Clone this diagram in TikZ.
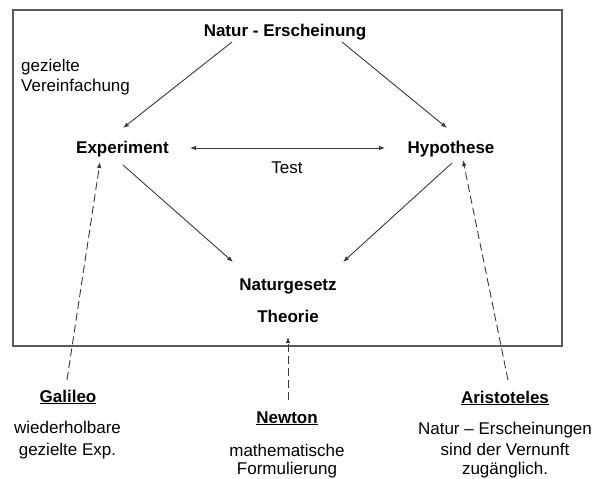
\documentclass[tikz,border=0pt]{standalone}
\usepackage{fontspec}
\setmainfont{Liberation Sans}
\usetikzlibrary{arrows.meta}
\definecolor{linegray}{HTML}{3A3A3A}
\definecolor{boxgray}{HTML}{5A5A5A}
\tikzset{
  lbl/.style={anchor=base, inner sep=0pt, font=\fontsize{17}{20}\selectfont},
  bold/.style={lbl, font=\fontsize{17}{20}\selectfont\bfseries},
  arr/.style={draw=linegray, line width=0.9pt, -{Latex[length=6pt,width=4.5pt]}},
  darr/.style={draw=linegray, line width=0.9pt, {Latex[length=6pt,width=4.5pt]}-{Latex[length=6pt,width=4.5pt]}},
  dashedarr/.style={arr, dash pattern=on 8pt off 4pt},
  frame/.style={draw=boxgray, line width=1.3pt}
}
\begin{document}
\begin{tikzpicture}[x=1pt,y=-1pt]
\useasboundingbox (0,0) rectangle (598,479);
\draw[frame] (13,10) rectangle (562,346);

\node[bold] (nat) at (285,37) {Natur - Erscheinung};
\node[lbl, anchor=base west] (gez) at (21,71) {gezielte};
\node[lbl, anchor=base west] (ver) at (21,91) {Vereinfachung};
\node[bold] (exp) at (122.5,153) {Experiment};
\node[bold] (hyp) at (451,153) {Hypothese};
\node[lbl] (test) at (287,173) {Test};
\node[bold] (law) at (288,290) {Naturgesetz};
\node[bold] (theo) at (288,322) {Theorie};

\node[bold] (gal) at (68,402) {\underline{Galileo}};
\node[lbl] (gal1) at (67.5,433) {wiederholbare};
\node[lbl] (gal2) at (67.5,455) {gezielte Exp.};

\node[bold] (new) at (287,423) {\underline{Newton}};
\node[lbl] (new1) at (287,456) {mathematische};
\node[lbl] (new2) at (287,474) {Formulierung};

\node[bold] (ari) at (505,403) {\underline{Aristoteles}};
\node[lbl] (ari1) at (505,434) {Natur – Erscheinungen};
\node[lbl] (ari2) at (505,455) {sind der Vernunft};
\node[lbl] (ari3) at (505,474) {zugänglich.};

\draw[arr] ([shift={(-53,5)}]nat.base) -- ([shift={(0.5,-25)}]exp.base);
\draw[arr] ([shift={(57,5)}]nat.base) -- ([shift={(-4,-25)}]hyp.base);
\draw[darr] ([shift={(67.5,-5)}]exp.base) -- ([shift={(-66,-5)}]hyp.base);
\draw[arr] ([shift={(0.5,12)}]exp.base) -- ([shift={(-55,-28)}]law.base);
\draw[arr] ([shift={(1,10)}]hyp.base) -- ([shift={(55,-28)}]law.base);
\draw[dashedarr] ([shift={(-1,-22)}]gal.base) -- ([shift={(-22.5,9)}]exp.base);
\draw[dashedarr] ([shift={(1,-23)}]new.base) -- ([shift={(0,15)}]theo.base);
\draw[dashedarr] ([shift={(3,-23)}]ari.base) -- ([shift={(12,7)}]hyp.base);
\end{tikzpicture}
\end{document}
